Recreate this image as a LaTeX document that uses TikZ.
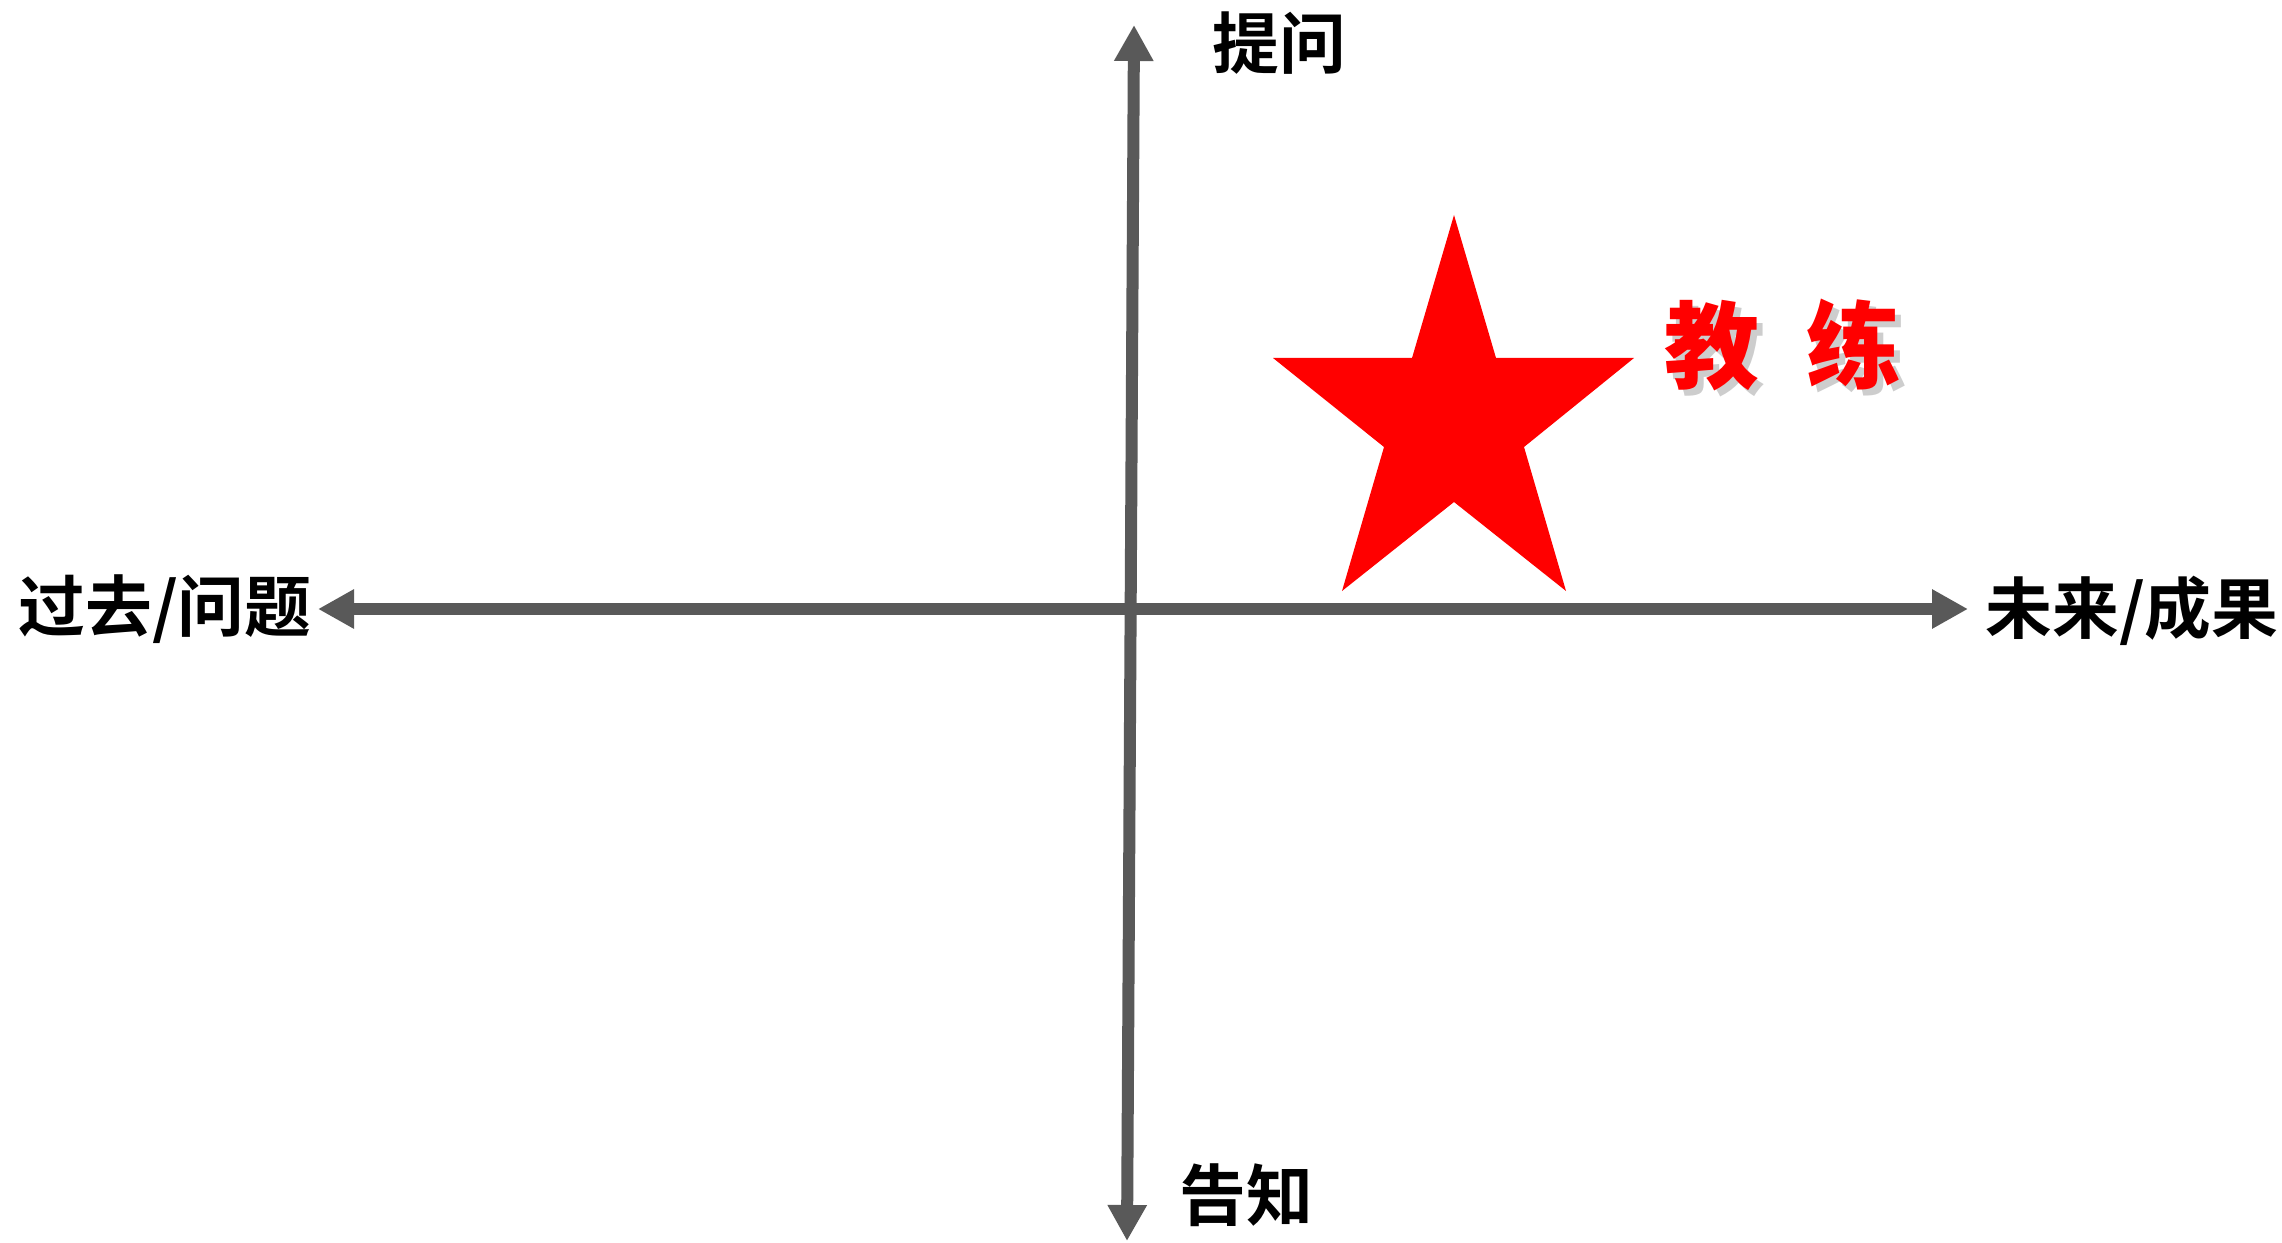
\documentclass[tikz,border=0pt]{standalone}
\usepackage{fontspec}
\newfontfamily\cjk{Noto Sans CJK SC}[BoldFont=* Bold]
\newfontfamily\cjkblack{Noto Sans CJK SC Black}
\usetikzlibrary{arrows.meta}
\definecolor{axisgray}{RGB}{89,89,89}
\definecolor{shadowgray}{RGB}{205,205,205}
\newcommand{\coachtext}{教\hspace{0.5em}练}
\begin{document}
\begin{tikzpicture}[x=0.01cm,y=-0.01cm,
  axisline/.style={draw=axisgray,line width=0.12cm,
     {Triangle[length=0.36cm,width=0.37cm]}-{Triangle[length=0.36cm,width=0.37cm]}},
  lbl/.style={font=\cjk\bfseries\fontsize{19}{21}\selectfont,inner sep=0pt,text=black},
  coach/.style={font=\cjkblack\fontsize{27}{30}\selectfont,inner sep=0pt}]
\useasboundingbox (0,0) rectangle (2282,1243);
\coordinate (top) at (1134,25);
\coordinate (bot) at (1127,1241);
\coordinate (left) at (318,609);
\coordinate (right) at (1968,609);
\draw[axisline] (top) -- (bot);
\draw[axisline] (left) -- (right);
% star
\fill[red] (1454,215) -- (1496,358) -- (1634,358) -- (1524,447) -- (1566,591)
  -- (1454,502) -- (1342,591) -- (1384,447) -- (1273,358) -- (1412,358) -- cycle;
\node[lbl] (ask) at (1279,43) {提问};
\node[lbl] (tell) at (1246,1195) {告知};
\node[lbl] (past) at (165,609) {过去/问题};
\node[lbl] (future) at (2132,611) {未来/成果};
\node[coach,text=red] (coach) at (1783,348)
  {\makebox[0pt][l]{\hspace{0.06cm}\raisebox{-0.06cm}{\textcolor{shadowgray}{\coachtext}}}\coachtext};
\end{tikzpicture}
\end{document}
